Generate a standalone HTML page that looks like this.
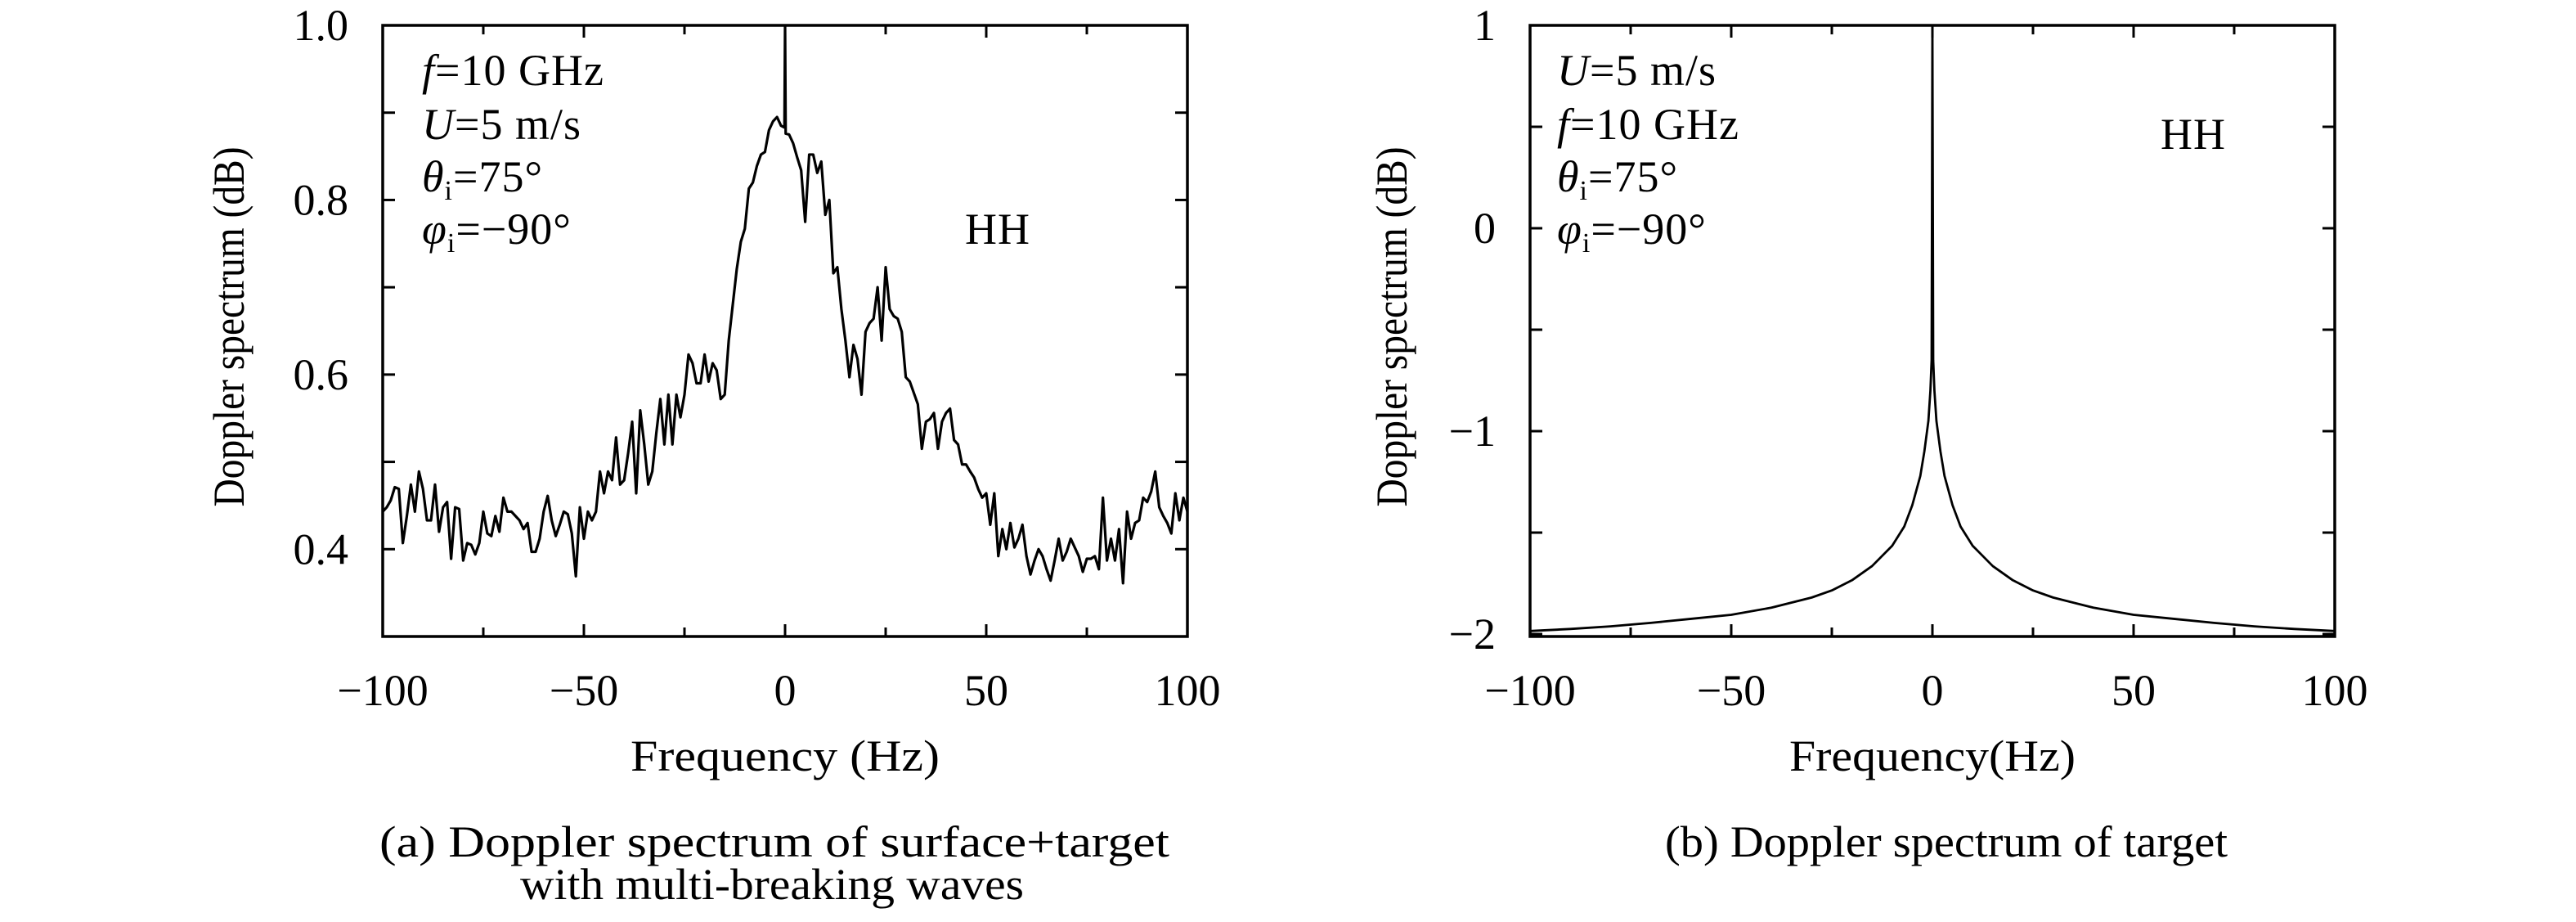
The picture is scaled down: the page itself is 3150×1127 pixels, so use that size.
<!DOCTYPE html>
<html><head><meta charset="utf-8"><style>
html,body{margin:0;padding:0;background:#fff;}
svg{display:block;font-family:"Liberation Serif",serif;}
</style></head><body>
<svg id="fig" width="3150" height="1127" viewBox="0 0 3150 1127" xmlns="http://www.w3.org/2000/svg">
<g id="pa"></g>
<g id="pb"></g>
<text x="947" y="1047" font-size="54" text-anchor="middle" textLength="966" lengthAdjust="spacingAndGlyphs">(a) Doppler spectrum of surface+target</text>
<text x="944" y="1099" font-size="54" text-anchor="middle" textLength="616" lengthAdjust="spacingAndGlyphs">with multi-breaking waves</text>
<text x="2380" y="1047" font-size="54" text-anchor="middle" textLength="688" lengthAdjust="spacingAndGlyphs">(b) Doppler spectrum of target</text>
</svg>
<script>
// Chart A data: 1 Hz resolution, plus narrow spike at 0 Hz
const freqA = [];
for (let f = -100; f <= -1; f++) freqA.push(f);
freqA.push(-0.15, 0, 0.15);
for (let f = 1; f <= 100; f++) freqA.push(f);
const valuesA = [
.443,.448,.456,.471,.469,.407,.438,.474,.443,.489,.469,.433,.433,.474,.420,.448,.454,.389,.448,.446,
.387,.407,.405,.394,.407,.443,.418,.415,.438,.420,.459,.443,.443,.438,.433,.423,.430,.397,.397,.412,
.443,.461,.433,.415,.428,.443,.440,.418,.369,.448,.412,.443,.433,.443,.489,.464,.489,.479,.528,.474,
.479,.510,.546,.464,.559,.520,.474,.489,.533,.572,.520,.577,.520,.577,.551,.577,.623,.613,.590,.590,
.623,.592,.613,.605,.572,.577,.639,.680,.721,.752,.767,.813,.820,.839,.852,.855,.880,.890,.895,.885,
.883,1.0,.876,
.875,.865,.849,.834,.775,.852,.852,.831,.844,.783,.800,.716,.723,.675,.639,.597,.634,.618,.577,.649,
.659,.664,.700,.639,.723,.675,.667,.664,.649,.597,.592,.579,.566,.515,.546,.549,.556,.515,.546,.556,
.561,.525,.520,.497,.497,.489,.482,.469,.459,.464,.428,.464,.392,.423,.400,.430,.402,.412,.428,.392,
.371,.387,.400,.392,.377,.364,.387,.412,.387,.397,.412,.402,.392,.374,.389,.389,.392,.377,.459,.387,
.412,.387,.423,.361,.443,.412,.430,.433,.459,.454,.466,.489,.448,.438,.430,.418,.464,.433,.459,.443
];
const xTicksA = [-100,-50,0,50,100];
const yTicksA = [0.4,0.6,0.8,1.0];
const yTickLabelsA = ["0.4","0.6","0.8","1.0"];

// Chart B data
const freqB = [-100,-90,-80,-70,-60,-50,-40,-30,-25,-20,-15,-10,-7,-5,-3,-2,-1,-0.5,-0.2,0,0.2,0.5,1,2,3,5,7,10,15,20,25,30,40,50,60,70,80,90,100];
const valuesB = [-1.985,-1.975,-1.962,-1.945,-1.925,-1.905,-1.87,-1.82,-1.785,-1.735,-1.665,-1.565,-1.47,-1.365,-1.22,-1.10,-0.95,-0.80,-0.65,1.0,-0.65,-0.80,-0.95,-1.10,-1.22,-1.365,-1.47,-1.565,-1.665,-1.735,-1.785,-1.82,-1.87,-1.905,-1.925,-1.945,-1.962,-1.975,-1.985];
const xTicksB = [-100,-50,0,50,100];
const yTicksB = [-2,-1,0,1];
const yTickLabelsB = ["\u22122","\u22121","0","1"];

const NS = "http://www.w3.org/2000/svg";
function mk(parent, tag, attrs) {
  const e = document.createElementNS(NS, tag);
  for (const k in attrs) e.setAttribute(k, attrs[k]);
  parent.appendChild(e);
  return e;
}
function fmtX(v){ return v < 0 ? "\u2212" + (-v) : String(v); }

function drawChart(g, cfg) {
  const sx = v => cfg.x0 + (v - cfg.xmin) / (cfg.xmax - cfg.xmin) * (cfg.x1 - cfg.x0);
  const sy = v => cfg.y1 - (v - cfg.ymin) / (cfg.ymax - cfg.ymin) * (cfg.y1 - cfg.y0);
  const cid = "clip" + cfg.id;
  const defs = mk(g, "defs", {});
  const cp = mk(defs, "clipPath", {id: cid});
  mk(cp, "rect", {x: cfg.x0, y: cfg.y0, width: cfg.x1 - cfg.x0, height: cfg.y1 - cfg.y0});
  let d = "";
  cfg.xs.forEach((x, i) => { d += (i ? "L" : "M") + sx(x).toFixed(2) + "," + sy(cfg.ys[i]).toFixed(2); });
  const line = mk(g, "path", {d: d, fill: "none", stroke: "#000", "stroke-width": cfg.lw, "stroke-linejoin": "round", "clip-path": "url(#" + cid + ")"});
  
  
  const fr = mk(g, "rect", {x: cfg.x0, y: cfg.y0, width: cfg.x1 - cfg.x0, height: cfg.y1 - cfg.y0, fill: "none", stroke: "#000", "stroke-width": 3.5});
  
  
  for (let v = cfg.xmin; v <= cfg.xmax + 1e-9; v += cfg.xminor) {
    const X = sx(v);
    const major = cfg.xTicks.some(t => Math.abs(t - v) < 1e-9);
    const L = major ? 15 : 11;
    const t1 = mk(g, "line", {x1: X, x2: X, y1: cfg.y1, y2: cfg.y1 - L, stroke: "#000", "stroke-width": 3});
    
    
    mk(g, "line", {x1: X, x2: X, y1: cfg.y0, y2: cfg.y0 + L, stroke: "#000", "stroke-width": 3});
  }
  cfg.xTicks.forEach(v => {
    const t = mk(g, "text", {x: sx(v), y: 862, "font-size": 54, "text-anchor": "middle"});
    t.textContent = fmtX(v);
    
    
  });
  for (let v = cfg.ymin0; v <= cfg.ymax + 1e-9; v += cfg.yminor) {
    const Y = sy(v);
    const L = 15;
    const t1 = mk(g, "line", {x1: cfg.x0, x2: cfg.x0 + L, y1: Y, y2: Y, stroke: "#000", "stroke-width": 3});
    
    
    mk(g, "line", {x1: cfg.x1, x2: cfg.x1 - L, y1: Y, y2: Y, stroke: "#000", "stroke-width": 3});
  }
  cfg.yTicks.forEach((v, i) => {
    const t = mk(g, "text", {x: cfg.x0 - 42, y: sy(v) + 18, "font-size": 54, "text-anchor": "end"});
    t.textContent = cfg.yLabels[i];
    
    
  });
  const xt = mk(g, "text", {x: (cfg.x0 + cfg.x1) / 2, y: 942, "font-size": 54, "text-anchor": "middle", textLength: cfg.xtl, lengthAdjust: "spacingAndGlyphs"});
  xt.textContent = cfg.xTitle;
  
  
  const cy = (cfg.y0 + cfg.y1) / 2 - 5;
  const yt = mk(g, "text", {x: cfg.ytx, y: cy, "font-size": 54, "text-anchor": "middle", textLength: 440, lengthAdjust: "spacingAndGlyphs", transform: "rotate(-90 " + cfg.ytx + " " + cy + ")"});
  yt.textContent = "Doppler spectrum (dB)";
  
  
}

drawChart(document.getElementById("pa"), {
  id: "a", x0: 468, x1: 1452, y0: 31, y1: 778, xmin: -100, xmax: 100, ymin: 0.3, ymax: 1.0, ymin0: 0.3,
  xminor: 25, yminor: 0.1, xTicks: xTicksA, yTicks: yTicksA, yLabels: yTickLabelsA,
  xs: freqA, ys: valuesA, lw: 3.2, xTitle: "Frequency (Hz)", xtl: 378, ytx: 298
});
drawChart(document.getElementById("pb"), {
  id: "b", x0: 1871, x1: 2855, y0: 31, y1: 778, xmin: -100, xmax: 100, ymin: -2.012, ymax: 1.0, ymin0: -2,
  xminor: 25, yminor: 0.5, xTicks: xTicksB, yTicks: yTicksB, yLabels: yTickLabelsB,
  xs: freqB, ys: valuesB, lw: 2.8, xTitle: "Frequency(Hz)", xtl: 350, ytx: 1720
});
</script>
<svg style="position:absolute;left:0;top:0" width="3150" height="1127" xmlns="http://www.w3.org/2000/svg">
<g font-family="Liberation Serif, serif" font-size="54" letter-spacing="1">
<text x="516" y="104"><tspan font-style="italic">f</tspan>=10 GHz</text>
<text x="516" y="170"><tspan font-style="italic">U</tspan>=5 m/s</text>
<text x="516" y="234"><tspan font-style="italic">θ</tspan><tspan font-size="34" dy="10">i</tspan><tspan dy="-10">=75°</tspan></text>
<text x="516" y="298"><tspan font-style="italic">φ</tspan><tspan font-size="34" dy="10">i</tspan><tspan dy="-10">=−90°</tspan></text>
<text x="1220" y="298" text-anchor="middle">HH</text>
<text x="1904" y="104"><tspan font-style="italic">U</tspan>=5 m/s</text>
<text x="1904" y="170"><tspan font-style="italic">f</tspan>=10 GHz</text>
<text x="1904" y="234"><tspan font-style="italic">θ</tspan><tspan font-size="34" dy="10">i</tspan><tspan dy="-10">=75°</tspan></text>
<text x="1904" y="298"><tspan font-style="italic">φ</tspan><tspan font-size="34" dy="10">i</tspan><tspan dy="-10">=−90°</tspan></text>
<text x="2682" y="182" text-anchor="middle">HH</text>
</g>
</svg>
</body></html>
